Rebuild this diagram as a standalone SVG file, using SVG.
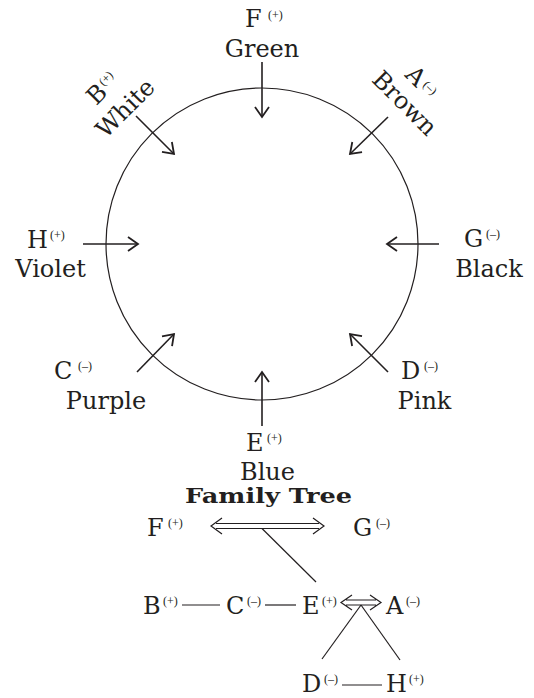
<svg xmlns="http://www.w3.org/2000/svg" width="534" height="698" viewBox="0 0 534 698">
<style>
text{font-family:"DejaVu Serif","Liberation Serif",serif;fill:#231f20}
.m{font-size:24px}
.s{font-size:12px;font-family:"Liberation Serif","DejaVu Serif",serif}
.c{text-anchor:middle}
.ar{stroke:#231f20;stroke-width:1.6;fill:none;marker-end:url(#chev)}
.thin{stroke:#231f20;stroke-width:1.2;fill:none}
</style>
<defs>
<marker id="chev" markerUnits="userSpaceOnUse" viewBox="-12 -9 14 18" refX="0" refY="0" markerWidth="14" markerHeight="18" orient="auto">
<path d="M-10,-7 L0,0 L-10,7" fill="none" stroke="#231f20" stroke-width="1.8"/>
</marker>
</defs>
<rect width="534" height="698" fill="#fff"/>
<circle cx="262" cy="244" r="156" class="thin"/>
<g id="connectors">
<line class="ar" x1="262" y1="62" x2="262" y2="117"/>
<line class="ar" x1="136" y1="116" x2="174" y2="154"/>
<line class="ar" x1="388" y1="117" x2="350" y2="154"/>
<line class="ar" x1="83" y1="244" x2="138" y2="244"/>
<line class="ar" x1="439" y1="244" x2="387" y2="244"/>
<line class="ar" x1="137" y1="372" x2="174" y2="334"/>
<line class="ar" x1="388" y1="372" x2="350" y2="334"/>
<line class="ar" x1="262" y1="426" x2="262" y2="372"/>
<path class="thin" d="M216,523.5 H319 M216,528.5 H319 M222,518 L211,526 L222,534 M313,518 L324,526 L313,534"/>
<line class="thin" x1="262" y1="528.5" x2="316" y2="582"/>
<line class="thin" x1="182" y1="605" x2="220" y2="605"/>
<line class="thin" x1="265" y1="605" x2="296" y2="605"/>
<path class="thin" d="M346,600 H376 M346,605 H376 M352,595 L341,602.5 L352,610 M370,595 L381,602.5 L370,610"/>
<line class="thin" x1="361" y1="605" x2="322" y2="659"/>
<line class="thin" x1="361" y1="605" x2="400" y2="660"/>
<line class="thin" x1="342" y1="685" x2="382" y2="685"/>
</g>
<g id="F"><text class="m" x="245" y="27">F</text><text class="s" x="268" y="19">(+)</text><text class="m c" x="262" y="57">Green</text></g>
<g id="B" transform="translate(131,114) rotate(-45)"><text class="m" x="-19" y="-30">B</text><text class="s" x="0" y="-39">(+)</text><text class="m c" x="0" y="0">White</text></g>
<g id="A" transform="translate(399,109) rotate(45)"><text class="m" x="-20" y="-27">A</text><text class="s" x="0" y="-33">(–)</text><text class="m c" x="0" y="0">Brown</text></g>
<g id="H"><text class="m" x="27" y="248">H</text><text class="s" x="50" y="239">(+)</text><text class="m c" x="50.5" y="277">Violet</text></g>
<g id="G"><text class="m" x="464" y="247">G</text><text class="s" x="486" y="238">(–)</text><text class="m c" x="489" y="277">Black</text></g>
<g id="C"><text class="m" x="54" y="379">C</text><text class="s" x="78" y="370">(–)</text><text class="m c" x="106" y="409">Purple</text></g>
<g id="D"><text class="m" x="401" y="379">D</text><text class="s" x="424" y="370">(–)</text><text class="m c" x="424.5" y="409">Pink</text></g>
<g id="E"><text class="m" x="246" y="451">E</text><text class="s" x="267" y="442">(+)</text><text class="m c" x="267.5" y="480">Blue</text></g>
<g id="title"><text x="185" y="503" font-size="20" font-weight="bold" textLength="167" lengthAdjust="spacingAndGlyphs">Family Tree</text></g>
<g id="tF"><text class="m" x="147" y="536">F</text><text class="s" x="168" y="527">(+)</text></g>
<g id="tG"><text class="m" x="353" y="536">G</text><text class="s" x="376" y="527">(–)</text></g>
<g id="tB"><text class="m" x="143" y="614">B</text><text class="s" x="163" y="605">(+)</text></g>
<g id="tC"><text class="m" x="226" y="614">C</text><text class="s" x="247" y="605">(–)</text></g>
<g id="tE"><text class="m" x="302" y="614">E</text><text class="s" x="322" y="605">(+)</text></g>
<g id="tA"><text class="m" x="386" y="614">A</text><text class="s" x="406" y="605">(–)</text></g>
<g id="tD"><text class="m" x="302" y="692">D</text><text class="s" x="324" y="683">(–)</text></g>
<g id="tH"><text class="m" x="386" y="692">H</text><text class="s" x="409" y="683">(+)</text></g>
</svg>
